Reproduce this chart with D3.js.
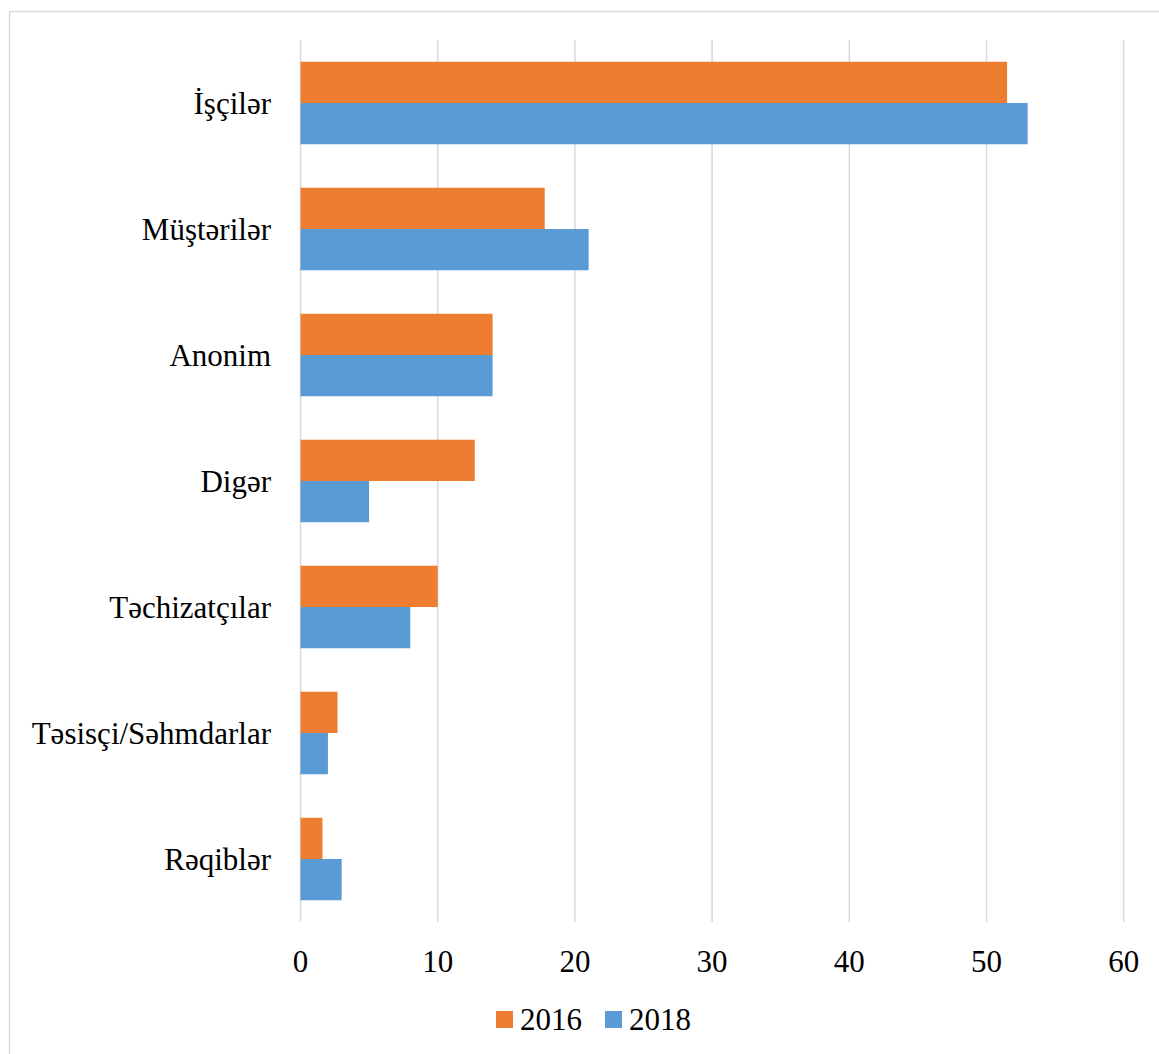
<!DOCTYPE html>
<html>
<head>
<meta charset="utf-8">
<script src="https://cdn.jsdelivr.net/npm/d3@7"></script>
<style>
  html, body { margin: 0; padding: 0; background: #fff; }
  svg { display: block; }
  text { font-family: "Liberation Serif", "Times New Roman", serif; fill: #000; }
</style>
</head>
<body>
<svg id="chart" width="1159" height="1054"></svg>
<script>
// Categories (top to bottom) and values per year
const categories = ["İşçilər", "Müştərilər", "Anonim", "Digər", "Təchizatçılar", "Təsisçi/Səhmdarlar", "Rəqiblər"];
const values2016 = [51.5, 17.8, 14.0, 12.7, 10.0, 2.7, 1.6];
const values2018 = [53.0, 21.0, 14.0, 5.0, 8.0, 2.0, 3.0];
const seriesNames = ["2016", "2018"];
const xTicks = [0, 10, 20, 30, 40, 50, 60];
const colors = ["#ED7D31", "#5B9BD5"];

const svg = d3.select("#chart");

// Chart frame
svg.append("rect")
  .attr("x", 9.5).attr("y", 11.5)
  .attr("width", 1170).attr("height", 1060)
  .attr("fill", "none").attr("stroke", "#d9d9d9").attr("stroke-width", 1.5);

const plot = { left: 300.5, right: 1123.7, top: 40, bottom: 922 };

const x = d3.scaleLinear().domain([0, 60]).range([plot.left, plot.right]);
const y = d3.scaleBand().domain(categories).range([plot.top, plot.bottom])
  .paddingInner(0.345).paddingOuter(0.1725);
const ySub = d3.scaleBand().domain(seriesNames).range([0, y.bandwidth()]);

// Vertical gridlines
svg.append("g")
  .selectAll("line")
  .data(xTicks)
  .join("line")
  .attr("x1", d => x(d)).attr("x2", d => x(d))
  .attr("y1", plot.top).attr("y2", plot.bottom)
  .attr("stroke", "#d9d9d9").attr("stroke-width", 1.5);

// Bars
const rows = categories.map((c, i) => ({ cat: c, vals: [values2016[i], values2018[i]] }));
const groups = svg.append("g")
  .selectAll("g")
  .data(rows)
  .join("g")
  .attr("transform", d => `translate(0,${y(d.cat)})`);

groups.selectAll("rect")
  .data(d => d.vals.map((v, j) => ({ v, s: seriesNames[j], c: colors[j] })))
  .join("rect")
  .attr("x", x(0))
  .attr("y", d => ySub(d.s))
  .attr("width", d => x(d.v) - x(0))
  .attr("height", ySub.bandwidth())
  .attr("fill", d => d.c);

// Category labels
svg.append("g")
  .selectAll("text")
  .data(categories)
  .join("text")
  .attr("x", 271)
  .attr("y", d => y(d) + y.bandwidth() / 2)
  .attr("dy", "0.35em")
  .attr("text-anchor", "end")
  .attr("font-size", 31)
  .text(d => d);

// X tick labels
svg.append("g")
  .selectAll("text")
  .data(xTicks)
  .join("text")
  .attr("x", d => x(d))
  .attr("y", 972)
  .attr("text-anchor", "middle")
  .attr("font-size", 31)
  .text(d => d);

// Legend
const legendItems = [
  { name: seriesNames[0], color: colors[0], x: 496 },
  { name: seriesNames[1], color: colors[1], x: 605 }
];
const lg = svg.append("g")
  .selectAll("g")
  .data(legendItems)
  .join("g")
  .attr("transform", d => `translate(${d.x},1011)`);
lg.append("rect").attr("width", 17).attr("height", 17).attr("fill", d => d.color);
lg.append("text").attr("x", 24).attr("y", 19).attr("font-size", 31).text(d => d.name);
</script>
</body>
</html>
